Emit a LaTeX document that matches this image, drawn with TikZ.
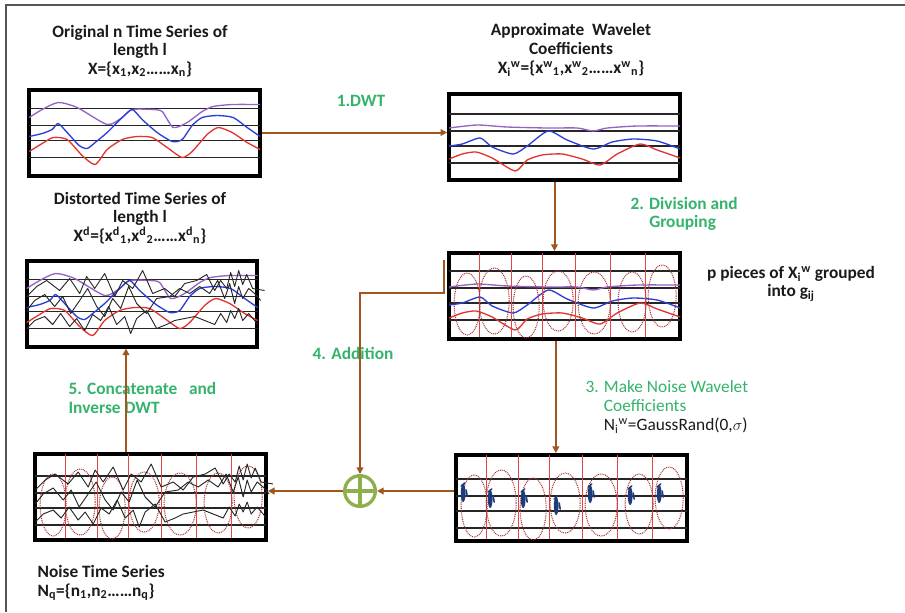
\documentclass[tikz,border=0pt]{standalone}
\usepackage{fontspec}
\setmainfont{Carlito}
\usetikzlibrary{positioning,arrows.meta}
\definecolor{arrowbrown}{HTML}{A0561E}
\definecolor{stepgreen}{HTML}{33B36B}
\definecolor{plusgreen}{HTML}{8DB04D}
\definecolor{curvepurple}{HTML}{9463C4}
\definecolor{curveblue}{HTML}{2B3FD6}
\definecolor{curvered}{HTML}{E2352F}
\definecolor{piecered}{HTML}{E04848}
\definecolor{markblue}{HTML}{1E3C7A}
\definecolor{framegray}{HTML}{555555}
\definecolor{textdark}{HTML}{1A1A1A}

% panel contents, in pixels from the panel's top left corner
\newcommand\gridlines[1][0]{\foreach \gy in {21,38,53,70} \draw[gridln] (2,\gy+#1) -- (233,\gy+#1);}
\newcommand\origcurves{%
  \draw[curve,curvepurple] plot[smooth,tension=0.4] coordinates {(2,30) (15,22) (31,15) (50,20) (80,37) (95,30) (105,22) (125,22) (135,24) (146,40) (160,35) (175,24) (186,19) (205,17) (233,17)};
  \draw[curve,curveblue] plot[smooth,tension=0.4] coordinates {(2,49) (15,46) (25,42) (31,36) (40,45) (52,58) (60,61) (68,55) (80,45) (95,30) (105,22) (115,32) (130,45) (145,54) (155,52) (165,38) (175,30) (190,28) (206,30) (220,40) (233,49)};
  \draw[curve,curvered] plot[smooth,tension=0.4] coordinates {(2,64) (15,56) (26,50) (40,52) (55,68) (68,77) (80,62) (95,52) (110,49) (125,50) (140,60) (155,70) (165,64) (180,47) (191,40) (205,45) (220,55) (233,62)};}
\newcommand\approxcurves{%
  \draw[curve,curvepurple] plot[smooth,tension=0.4] coordinates {(2,36) (30,33) (60,35) (100,36) (130,36) (146,39) (160,36) (190,34) (233,34)};
  \draw[curve,curveblue] plot[smooth,tension=0.4] coordinates {(2,54) (15,52) (33,46) (45,55) (66,62) (80,54) (101,39) (120,48) (146,57) (165,50) (186,47) (210,49) (233,57)};
  \draw[curve,curvered] plot[smooth,tension=0.4] coordinates {(2,67) (15,62) (29,60) (45,66) (68,79) (80,68) (95,63) (115,62) (135,67) (153,73) (170,62) (193,52) (210,58) (233,66)};}
\newcommand\noisecurves{%
  \draw[noise] plot coordinates {(2,38) (12,28) (22,22) (35,32) (45,20) (55,35) (62,18) (70,30) (80,15) (90,38) (98,22) (108,30) (118,12) (128,35) (140,30) (150,38) (160,25) (172,22) (182,16) (190,32) (196,22) (202,30) (206,14) (210,28) (214,12) (218,26) (222,16) (228,30) (240,32)};
  \draw[noise] plot coordinates {(2,52) (10,42) (20,36) (30,48) (38,38) (46,55) (55,42) (63,30) (72,48) (80,58) (88,40) (96,50) (104,28) (112,45) (122,55) (132,40) (145,38) (155,30) (165,35) (175,28) (185,35) (193,22) (200,40) (205,25) (210,45) (214,28) (218,40) (224,30) (230,35) (236,42)};
  \draw[noise] plot coordinates {(2,70) (10,62) (20,58) (28,66) (36,55) (45,68) (52,60) (60,72) (68,56) (76,62) (84,48) (92,66) (100,58) (106,75) (112,60) (122,52) (132,70) (142,66) (150,62) (160,60) (170,58) (180,62) (190,66) (196,55) (202,64) (206,52) (210,60) (214,50) (218,62) (224,55) (230,62) (233,66)};}
\newcommand\pieces{%
  \foreach \vx in {32,64,95,128,163,198} \draw[piece] (\vx,2) -- (\vx,86);
  \foreach \cx/\cy/\rx/\ry in {20/53/13/31,47/50/15/33,79/56/13/31,111/50/15/30,147/52/16/31,185/51/14/30,215/45/14/31}
    \draw[pieceell] (\cx,\cy) ellipse [x radius=\rx, y radius=\ry];}

\begin{document}
\begin{tikzpicture}[x=0.75pt,y=-0.75pt,
    node distance=6pt,
    panel/.style={draw=black,line width=3pt,minimum width=173pt,minimum height=64.5pt,inner sep=0pt},
    title/.style={align=center,font=\fontsize{13}{14}\selectfont\bfseries,text=textdark,inner sep=1pt},
    steplbl/.style={align=left,font=\fontsize{13}{14}\selectfont\bfseries,text=stepgreen,inner sep=1pt},
    arr/.style={draw=arrowbrown,line width=1.5pt,-{Triangle[length=5pt,width=5pt]}},
    gridln/.style={black!85,line width=0.9pt},
    curve/.style={line width=1pt,line join=round},
    noise/.style={black!85,line width=0.7pt,line join=round},
    piece/.style={piecered,line width=1pt},
    pieceell/.style={piecered!75!black,dash pattern=on 0.7pt off 0.7pt,line width=0.8pt},
    coefmark/.style={markblue,line width=1.2pt,line cap=round}]
    \useasboundingbox (0,0) rectangle (905,612);
    \draw[framegray,line width=1.5pt] (6,612) -- (6,5) -- (905,5);

    % the six panels
    \node[panel] (orig) at (144.5,132.5) {};
    \node[panel] (approx) at (564.5,137) {};
    \node[panel] (group) at (564.5,296) {};
    \node[panel] (noisew) at (571.5,498) {};
    \node[panel] (noisets) at (150.5,497) {};
    \node[panel] (distort) at (142,303.5) {};
    \begin{scope}[shift={(orig.north west)}]
      \gridlines \origcurves
    \end{scope}
    \begin{scope}[shift={(approx.north west)}]
      \gridlines[1] \approxcurves
    \end{scope}
    \begin{scope}[shift={(group.north west)}]
      \gridlines[-1] \approxcurves \pieces
    \end{scope}
    \begin{scope}[shift={(noisew.north west)}]
      \gridlines[5] \pieces
      \foreach \mx/\my in {9/29,36/35,69/35,102/42,136/30,176/32,205/30}{
        \fill[markblue] (\mx,\my+11) ellipse [x radius=2.4, y radius=9];
        \draw[coefmark] (\mx-2,\my+4) -- (\mx+1.5,\my+1) (\mx+3,\my+8) -- (\mx+4,\my+14);}
    \end{scope}
    \begin{scope}[shift={(noisets.north west)}]
      \gridlines[3] \pieces \noisecurves
    \end{scope}
    \begin{scope}[shift={(distort.north west)}]
      \gridlines \origcurves \noisecurves
    \end{scope}

    % titles
    \node[title] (torig) at (140,51) {Original n Time Series of\\length l\\X=\{x\textsubscript{1},x\textsubscript{2}……x\textsubscript{n}\}};
    \node[title] (tapprox) at (571,50) {Approximate\ \ Wavelet\\Coefficients\\X\textsubscript{i}\textsuperscript{w}=\{x\textsuperscript{w}\textsubscript{1},x\textsuperscript{w}\textsubscript{2}……x\textsuperscript{w}\textsubscript{n}\}};
    \node[title] (tdistort) at (140,218) {Distorted Time Series of\\length l\\X\textsuperscript{d}=\{x\textsuperscript{d}\textsubscript{1},x\textsuperscript{d}\textsubscript{2}……x\textsuperscript{d}\textsubscript{n}\}};
    \node[title] (tpieces) at (791,284) {p pieces of X\textsubscript{i}\textsuperscript{w} grouped\\into g\textsubscript{ij}};
    \node[title,align=left,anchor=west] (tnoise) at (36,583) {Noise Time Series\\N\textsubscript{q}=\{n\textsubscript{1},n\textsubscript{2}……n\textsubscript{q}\}};

    % step labels
    \node[steplbl] (ldwt) at (361,101) {1.DWT};
    \node[steplbl,anchor=west] (ldiv) at (629,214) {2. Division and\\\phantom{2. }Grouping};
    \node[steplbl,anchor=west,font=\fontsize{13}{14}\selectfont] (lmake) at (584,407) {3. Make Noise Wavelet\\\phantom{3. }Coefficients\\\phantom{3. }\textcolor{textdark}{N\textsubscript{i}\textsuperscript{w}=GaussRand(0,$\sigma$)}};
    \node[steplbl] (ladd) at (353,353) {4. Addition};
    \node[steplbl,anchor=west] (lconcat) at (67,398) {5. Concatenate\ \ \ and\\Inverse DWT};

    % adder
    \node[circle,draw=plusgreen,line width=2.5pt,minimum size=23pt,inner sep=0pt] (plus) at (360,491) {};
    \draw[plusgreen,line width=2.5pt] (plus.north) -- (plus.south) (plus.west) -- (plus.east);

    % connectors
    \draw[arr] (orig.east) -- (orig.east -| approx.west);
    \draw[arr] ([xshift=-7.5pt]approx.south) -- ([xshift=-7.5pt]group.north);
    \draw[arr] ([xshift=-6.5pt]group.south) -- ([xshift=-6.5pt]group.south |- noisew.north);
    \draw[arr] ([shift={(-2.25pt,-6.75pt)}]group.north west) -- ++(0,33) -| (plus.north);
    \draw[arr] (noisew.west |- plus.east) -- (plus.east);
    \draw[arr] (plus.west) -- (plus.west -| noisets.east);
    \draw[arr] ([xshift=-18.4pt]noisets.north) -- ([xshift=-18.4pt]noisets.north |- distort.south);
\end{tikzpicture}
\end{document}
